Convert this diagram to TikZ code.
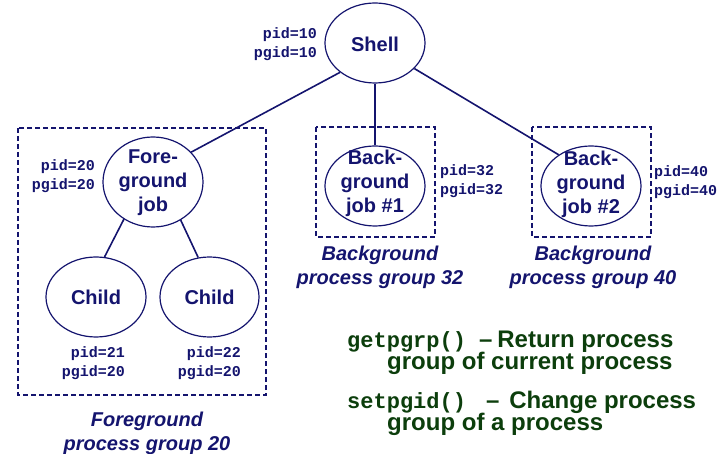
\documentclass[tikz,border=0pt]{standalone}
\usepackage{fontspec}
\setmainfont{Liberation Sans}
\newfontfamily\cour{Liberation Mono}
\usetikzlibrary{shapes.geometric}
\definecolor{navy}{RGB}{20,20,110}
\definecolor{dgreen}{RGB}{12,62,12}
\begin{document}
\begin{tikzpicture}[x=1pt,y=-1pt,
  ell/.style={ellipse, draw=navy, line width=1.2pt, inner sep=0pt, minimum width=100pt, minimum height=80pt},
  etext/.style={text=navy, font=\bfseries\fontsize{20}{24}\selectfont, align=center, inner sep=0pt},
  lab/.style={text=navy, font=\cour\bfseries\fontsize{15}{18.5}\selectfont, inner sep=0pt},
  grp/.style={draw=navy, line width=2pt, dash pattern=on 5pt off 3pt},
  grpcaption/.style={text=navy, font=\bfseries\itshape\fontsize{20}{24}\selectfont, align=center, inner sep=0pt},
  conn/.style={draw=navy, line width=1.6pt},
  note/.style={text=dgreen, font=\bfseries\fontsize{24}{28}\selectfont, inner sep=0pt, anchor=base west}]
\useasboundingbox (0,0) rectangle (723,454);
\newcommand\codef{\cour\bfseries\fontsize{22}{26}\selectfont}

% group boxes
\draw[grp] (18,128) rectangle (266,395);
\draw[grp] (316,127) rectangle (435,237);
\draw[grp] (532,127) rectangle (651,237);

% ellipses
\node[ell] (shell) at (375,43) {};
\node[ell, minimum height=90pt] (fg) at (153,182) {};
\node[ell] (c1) at (96,297) {};
\node[ell, minimum width=99pt] (c2) at (209.5,297) {};
\node[ell] (bg1) at (375,186) {};
\node[ell] (bg2) at (591,186) {};

% ellipse texts
\node[etext] (tshell) at (375,44) {Shell};
\node[etext] (tfg) at (153,183) {Fore-\\ground\\job};
\node[etext] (tc1) at (96,297) {Child};
\node[etext] (tc2) at (209.5,297) {Child};
\node[etext] (tbg1) at (375,183) {Back-\\ground\\job \#1};
\node[etext] (tbg2) at (591,184) {Back-\\ground\\job \#2};

% connectors
\draw[conn] (shell.220) -- (fg.38);
\draw[conn] (shell.south) -- (bg1.north);
\draw[conn] (shell.327) -- (bg2.136);
\draw[conn] (fg.232) -- (c1.78);
\draw[conn] (fg.306) -- (c2.106);

% pid labels
\node[lab, align=right, anchor=east] (l10) at (317,44) {pid=10\\pgid=10};
\node[lab, align=right, anchor=east] (l20) at (95,176) {pid=20\\pgid=20};
\node[lab, align=right, anchor=east] (l21) at (125,363) {pid=21\\pgid=20};
\node[lab, align=right, anchor=east] (l22) at (241,363) {pid=22\\pgid=20};
\node[lab, align=left, anchor=west] (l32) at (440,181) {pid=32\\pgid=32};
\node[lab, align=left, anchor=west] (l40) at (654,182) {pid=40\\pgid=40};

% captions
\node[grpcaption] (cap20) at (147,433) {Foreground\\process group 20};
\node[grpcaption] (cap32) at (380,267) {Background\\process group 32};
\node[grpcaption] (cap40) at (593,267) {Background\\process group 40};

% notes
\node[note] (n1) at (347,348) {{\codef getpgrp()}\hspace{13pt}–\hspace{5pt}Return process};
\node[note] (n2) at (387,370) {group of current process};
\node[note] (n3) at (347,408) {{\codef setpgid()}\hspace{20pt}–\hspace{10pt}Change process};
\node[note] (n4) at (387,430) {group of a process};
\end{tikzpicture}
\end{document}
